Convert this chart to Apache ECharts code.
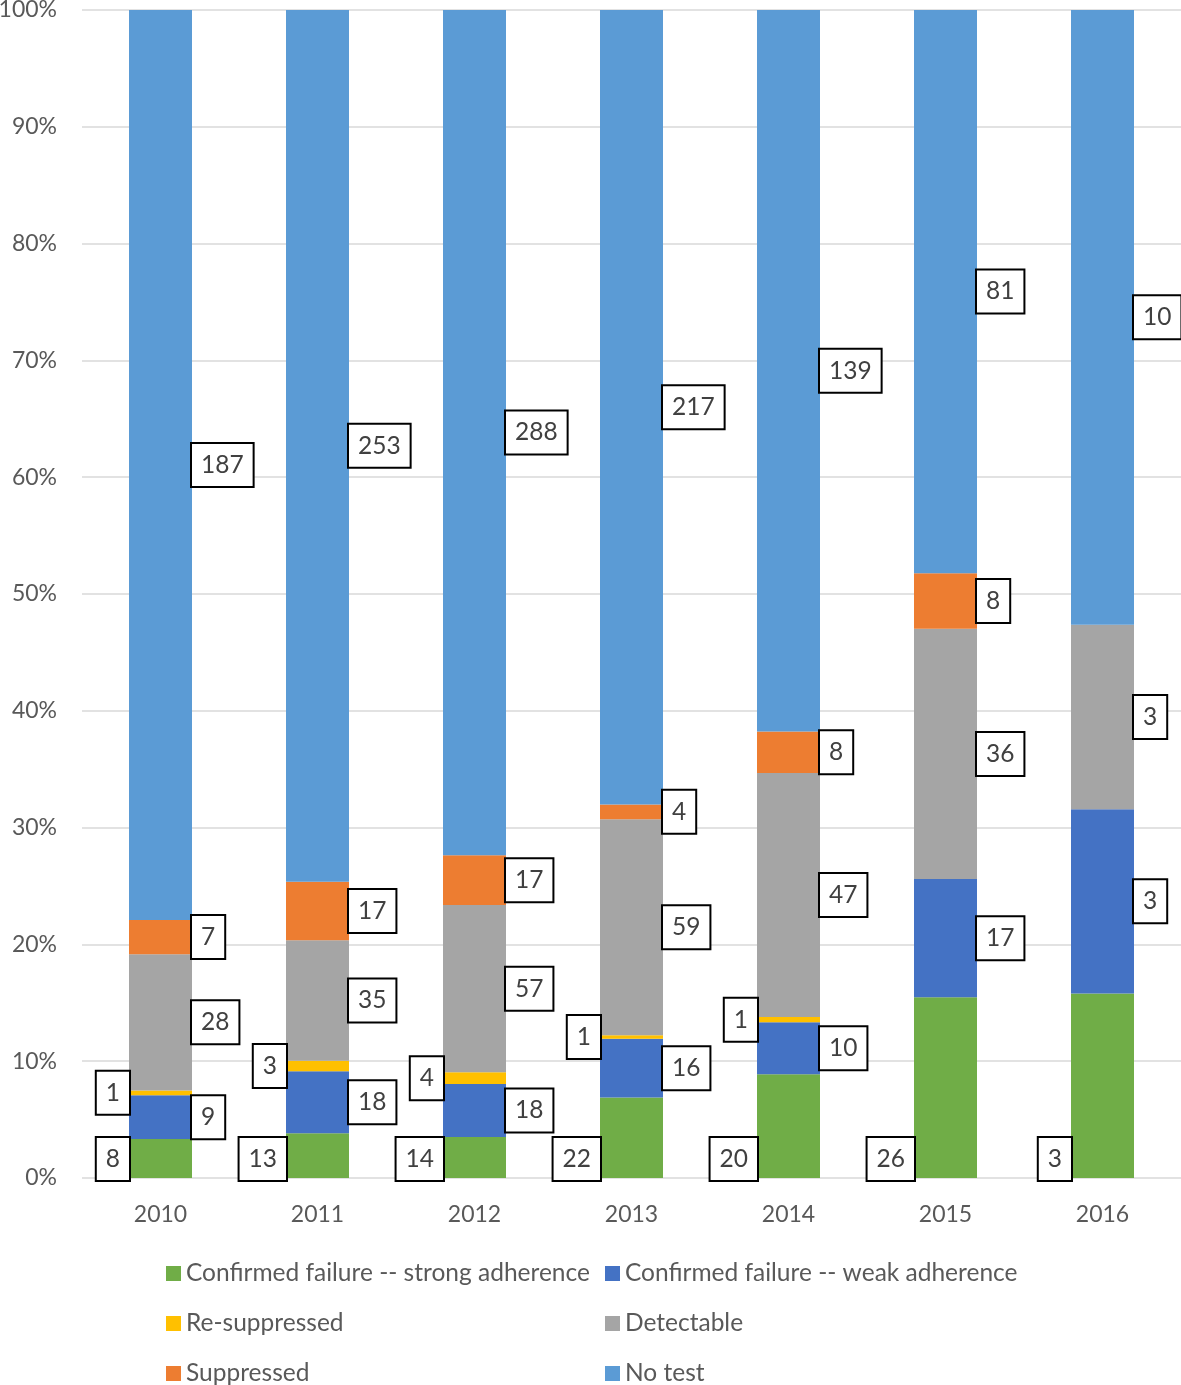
<!DOCTYPE html>
<html>
<head>
<meta charset="utf-8">
<script src="https://cdn.jsdelivr.net/npm/echarts@6/dist/echarts.min.js"></script>
<style>
  html, body { margin: 0; padding: 0; background: #fff; }
  #chart { width: 1181px; height: 1385px; }
</style>
</head>
<body>
<div id="chart"></div>
<script>
// datos (conteos por año)
const years = ['2010', '2011', '2012', '2013', '2014', '2015', '2016'];
const seriesNames = [
    'Confirmed failure -- strong adherence',
    'Confirmed failure -- weak adherence',
    'Re-suppressed',
    'Detectable',
    'Suppressed',
    'No test'
];
const strongAdherence = [8, 13, 14, 22, 20, 26, 3];
const weakAdherence = [9, 18, 18, 16, 10, 17, 3];
const reSuppressed = [1, 3, 4, 1, 1, 0, 0];
const detectable = [28, 35, 57, 59, 47, 36, 3];
const suppressed = [7, 17, 17, 4, 8, 8, 0];
const noTest = [187, 253, 288, 217, 139, 81, 10];
const yTicks = [0, 10, 20, 30, 40, 50, 60, 70, 80, 90, 100];

const colors = ['#70AD47', '#4472C4', '#FFC000', '#A5A5A5', '#ED7D31', '#5B9BD5'];
const labelSide = ['left', 'right', 'left', 'right', 'right', 'right'];

const counts = [strongAdherence, weakAdherence, reSuppressed, detectable, suppressed, noTest];
const totals = years.map((y, i) => counts.reduce((s, arr) => s + arr[i], 0));

const FONT = 'Lato, "Noto Sans", sans-serif';

const chart = echarts.init(document.getElementById('chart'));

const series = counts.map((arr, k) => {
    const label = {
        show: true,
        position: labelSide[k],
        distance: 0,
        fontFamily: FONT,
        fontSize: 24.5,
        color: '#404040',
        backgroundColor: '#fff',
        borderColor: '#000',
        borderWidth: 2,
        padding: [9, 9, 8, 9],
        formatter: p => String(arr[p.dataIndex])
    };
    if (k === 0) {
        // etiqueta verde: a la izquierda, pegada al eje
        label.position = [0, '100%'];
        label.align = 'right';
        label.verticalAlign = 'bottom';
        label.offset = [0, 2];
    }
    return {
        name: seriesNames[k],
        type: 'bar',
        stack: 'total',
        barWidth: 63,
        itemStyle: { color: colors[k] },
        label: label,
        // porcentaje del total; los ceros no se dibujan
        data: arr.map((v, i) => v > 0 ? v / totals[i] * 100 : null)
    };
});

// leyenda en dos columnas, tres filas (una leyenda por elemento)
const legendText = { fontFamily: FONT, fontSize: 24.5, color: '#595959' };
const legendCols = [166, 605];
const legendRows = [1272, 1322, 1372];
const legends = seriesNames.map((name, k) => ({
    orient: 'horizontal',
    left: legendCols[k % 2],
    top: legendRows[Math.floor(k / 2)] - 11,
    padding: 0,
    icon: 'rect',
    itemWidth: 15,
    itemHeight: 15,
    textStyle: legendText,
    data: [name]
}));

const option = {
    animation: false,
    color: colors,
    grid: { left: 82, right: 0, top: 10, bottom: 207, outerBoundsMode: 'none' },
    xAxis: {
        type: 'category',
        data: years,
        axisLine: { show: false },
        axisTick: { show: false },
        axisLabel: { fontFamily: FONT, fontSize: 23, color: '#595959', margin: 25 }
    },
    yAxis: {
        type: 'value',
        min: yTicks[0],
        max: yTicks[yTicks.length - 1],
        interval: 10,
        axisLabel: { fontFamily: FONT, fontSize: 23, color: '#595959', margin: 25, formatter: '{value}%' },
        splitLine: { lineStyle: { color: '#d9d9d9', width: 1.5 } },
        axisLine: { show: false },
        axisTick: { show: false }
    },
    legend: legends,
    series: series
};

chart.setOption(option);

window.addEventListener('resize', function () {
    chart.resize();
});
</script>
</body>
</html>
